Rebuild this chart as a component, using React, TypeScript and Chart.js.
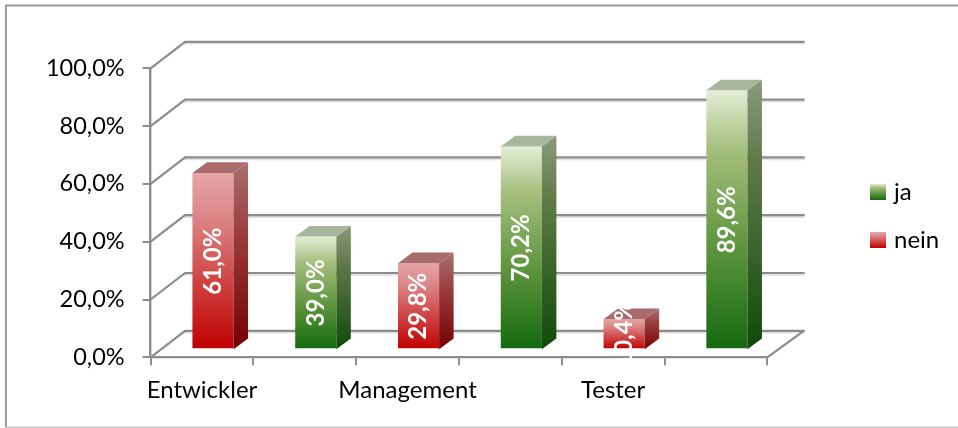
import React, { useEffect, useRef } from "react";
import { Chart, registerables } from "chart.js";

Chart.register(...registerables);

const categories = ["Entwickler", "", "Management", "", "Tester", ""];
const jaValues = [null, 39.0, null, 70.2, null, 89.6];
const neinValues = [61.0, null, 29.8, null, 10.4, null];
const yTicks = [0, 20, 40, 60, 80, 100];

const FONT = "Lato, Carlito, sans-serif";
const GRID = "#8c8c8c";
const BACK = { dx: 34.5, dy: 26.5 };
const SHIFT = { dx: 11, dy: 8 };
const DEPTH = { dx: 14.5, dy: 10.7 };

const JA_STOPS: [number, string][] = [[0, "#e3eed6"], [0.22, "#a6c07f"], [0.6, "#5e953f"], [1, "#146a0e"]];
const NEIN_STOPS: [number, string][] = [[0, "#e6a5a5"], [0.25, "#dc8686"], [0.6, "#d04646"], [1, "#c00000"]];
const JA_SIDE: [number, string][] = [[0, "#8b9a80"], [0.3, "#5f7a48"], [1, "#0f4a0a"]];
const NEIN_SIDE: [number, string][] = [[0, "#a87070"], [0.4, "#9a3a3a"], [1, "#750000"]];
const JA_TOP = "#a8b69d";
const NEIN_TOP = "#a96b6b";

const fmt = (v: number) => v.toFixed(1).replace(".", ",") + "%";

function vGradient(ctx: CanvasRenderingContext2D, y0: number, y1: number, stops: [number, string][]) {
  const g = ctx.createLinearGradient(0, y0, 0, y1);
  stops.forEach(([o, c]) => g.addColorStop(o, c));
  return g;
}

function swatch(stops: [number, string][]) {
  const c = document.createElement("canvas");
  c.width = 16;
  c.height = 16;
  const x = c.getContext("2d")!;
  x.fillStyle = vGradient(x, 0, 16, stops);
  x.fillRect(0, 0, 16, 16);
  return c;
}

function barFill(stops: [number, string][]) {
  return (c: any) => {
    const chart = c.chart;
    const v = c.parsed?.y;
    const y = chart.scales?.y;
    if (v == null || !y) return stops[stops.length - 1][1];
    return vGradient(chart.ctx, y.getPixelForValue(v), y.getPixelForValue(0), stops);
  };
}

const scenePlugin = {
  id: "scene3d",
  beforeDraw(chart: any) {
    const { ctx } = chart;
    ctx.save();
    ctx.fillStyle = "#ffffff";
    ctx.fillRect(0, 0, chart.width, chart.height);
    ctx.strokeStyle = "#9a9a9a";
    ctx.lineWidth = 2;
    ctx.beginPath();
    ctx.moveTo(958, 5.5);
    ctx.lineTo(6, 5.5);
    ctx.lineTo(6, 427.5);
    ctx.stroke();
    ctx.strokeStyle = "#c8c8c8";
    ctx.beginPath();
    ctx.moveTo(6, 427.5);
    ctx.lineTo(958, 427.5);
    ctx.stroke();
    ctx.restore();
    const lg = chart.legend;
    if (lg) {
      const w = lg.right - lg.left;
      const h = lg.bottom - lg.top;
      lg.left = 877 - 27;
      lg.right = lg.left + w;
      lg.top = 183 - 27;
      lg.bottom = lg.top + h;
    }
  },
  beforeDatasetsDraw(chart: any) {
    const { ctx, scales, chartArea } = chart;
    const { y } = scales;
    const l = chartArea.left;
    const r = chartArea.right;
    ctx.save();
    ctx.lineCap = "round";
    yTicks.forEach((t) => {
      const py = y.getPixelForValue(t);
      const by = py - BACK.dy;
      ctx.strokeStyle = "rgba(0,0,0,0.12)";
      ctx.lineWidth = 2;
      ctx.beginPath();
      ctx.moveTo(l + BACK.dx, by + 1.8);
      ctx.lineTo(r + BACK.dx + 2, by + 1.8);
      ctx.stroke();
      ctx.strokeStyle = GRID;
      ctx.lineWidth = 2.2;
      ctx.beginPath();
      ctx.moveTo(l, py);
      ctx.lineTo(l + BACK.dx, by);
      ctx.lineTo(r + BACK.dx + 2, by);
      ctx.stroke();
    });
    const b = y.getPixelForValue(0);
    ctx.strokeStyle = GRID;
    ctx.lineWidth = 2.2;
    ctx.beginPath();
    ctx.moveTo(r, b);
    ctx.lineTo(r + BACK.dx + 2, b - BACK.dy);
    ctx.stroke();
    ctx.restore();
  },
  beforeDatasetDraw(chart: any) {
    chart.ctx.save();
    chart.ctx.translate(SHIFT.dx, -SHIFT.dy);
  },
  afterDatasetDraw(chart: any, args: any) {
    const { ctx, scales } = chart;
    const isJa = args.index === 0;
    const meta = chart.getDatasetMeta(args.index);
    const base = scales.y.getPixelForValue(0);
    meta.data.forEach((bar: any, i: number) => {
      const v = chart.data.datasets[args.index].data[i];
      if (v == null) return;
      const left = bar.x - bar.width / 2;
      const right = bar.x + bar.width / 2;
      const top = bar.y;
      ctx.fillStyle = vGradient(ctx, top - DEPTH.dy, base, isJa ? JA_SIDE : NEIN_SIDE);
      ctx.beginPath();
      ctx.moveTo(right, top);
      ctx.lineTo(right + DEPTH.dx, top - DEPTH.dy);
      ctx.lineTo(right + DEPTH.dx, base - DEPTH.dy);
      ctx.lineTo(right, base);
      ctx.closePath();
      ctx.fill();
      ctx.fillStyle = isJa ? JA_TOP : NEIN_TOP;
      ctx.beginPath();
      ctx.moveTo(left, top);
      ctx.lineTo(left + DEPTH.dx, top - DEPTH.dy);
      ctx.lineTo(right + DEPTH.dx, top - DEPTH.dy);
      ctx.lineTo(right, top);
      ctx.closePath();
      ctx.fill();
    });
    ctx.restore();
  },
  afterDatasetsDraw(chart: any) {
    const { ctx, scales } = chart;
    const base = scales.y.getPixelForValue(0);
    chart.data.datasets.forEach((ds: any, di: number) => {
      chart.getDatasetMeta(di).data.forEach((bar: any, i: number) => {
        const v = ds.data[i];
        if (v == null) return;
        ctx.save();
        ctx.translate(bar.x + SHIFT.dx, (bar.y + base) / 2 - SHIFT.dy);
        ctx.rotate(-Math.PI / 2);
        ctx.fillStyle = "#ffffff";
        ctx.font = `bold 24px ${FONT}`;
        ctx.textAlign = "center";
        ctx.textBaseline = "middle";
        ctx.fillText(fmt(v), 0, 0);
        ctx.restore();
      });
    });
  },
};

export default function App() {
  const ref = useRef<HTMLCanvasElement>(null);
  useEffect(() => {
    const chart = new Chart(ref.current!, {
      type: "bar",
      data: {
        labels: categories,
        datasets: [
          { label: "ja", data: jaValues, backgroundColor: barFill(JA_STOPS), borderWidth: 0 },
          { label: "nein", data: neinValues, backgroundColor: barFill(NEIN_STOPS), borderWidth: 0 },
        ],
      },
      options: {
        animation: false,
        responsive: false,
        layout: { padding: { left: 0, top: 68.3, right: 91.5, bottom: 0 } },
        datasets: { bar: { barPercentage: 0.4, categoryPercentage: 1, clip: false } },
        plugins: {
          tooltip: { enabled: false },
          legend: {
            position: "right",
            align: "start",
            labels: {
              usePointStyle: true,
              pointStyleWidth: 8,
              padding: 24,
              color: "#000000",
              font: { family: FONT, size: 24 },
              generateLabels: () => [
                { text: "ja", pointStyle: swatch(JA_STOPS), fontColor: "#000000", lineWidth: 0, datasetIndex: 0 },
                { text: "nein", pointStyle: swatch(NEIN_STOPS), fontColor: "#000000", lineWidth: 0, datasetIndex: 1 },
              ],
            },
          },
        },
        scales: {
          x: {
            stacked: true,
            afterFit: (s: any) => { s.height = 428 - 357.3; },
            grid: { offset: true, drawOnChartArea: false, color: GRID, lineWidth: 2, tickLength: 8, drawTicks: true },
            border: { color: GRID, width: 2.2 },
            ticks: {
              autoSkip: false,
              maxRotation: 0,
              minRotation: 0,
              color: "#000000",
              padding: 11,
              font: { family: FONT, size: 24 },
            },
          },
          y: {
            stacked: true,
            min: 0,
            max: 100,
            afterFit: (s: any) => { s.width = 150.6; },
            afterBuildTicks: (s: any) => { s.ticks = yTicks.map((value) => ({ value })); },
            grid: { drawOnChartArea: false, color: GRID, lineWidth: 2, tickLength: 8 },
            border: { color: GRID, width: 2.4 },
            ticks: {
              color: "#000000",
              padding: 18,
              font: { family: FONT, size: 23.5 },
              callback: (v: any) => fmt(Number(v)),
            },
          },
        },
      },
      plugins: [scenePlugin],
    } as any);
    return () => chart.destroy();
  }, []);
  return (
    <div style={{ position: "absolute", left: 0, top: 0, width: 958, height: 428 }}>
      <canvas ref={ref} width={958} height={428} style={{ display: "block" }} />
    </div>
  );
}
